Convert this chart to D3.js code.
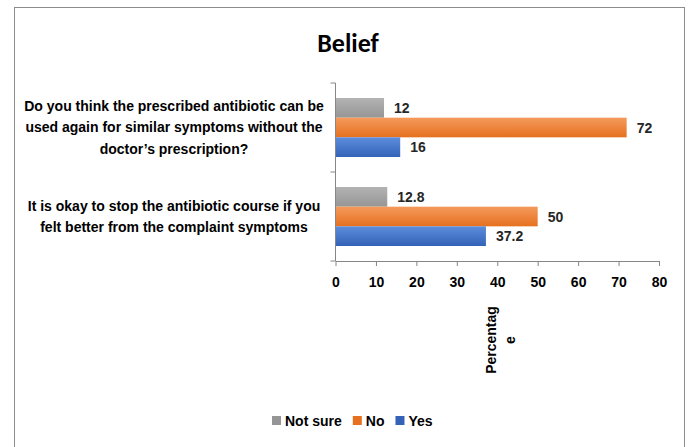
<!DOCTYPE html>
<html><head><meta charset="utf-8">
<script src="https://cdn.jsdelivr.net/npm/d3@7"></script>
<style>body{margin:0;background:#fff}svg{display:block}</style>
</head><body>
<svg id="c" width="689" height="447"></svg>
<script>
const categories = [
  "Do you think the prescribed antibiotic can be|used again for similar symptoms without the|doctor\u2019s prescription?",
  "It is okay to stop the antibiotic course if you|felt better from the complaint symptoms"
];
const seriesNames = ["Not sure", "No", "Yes"];
const notSure = [12, 12.8];
const no = [72, 50];
const yes = [16, 37.2];
const xTicks = [0, 10, 20, 30, 40, 50, 60, 70, 80];
const titleText = "Belief";
const axisTitle = ["Percentag", "e"];

const font = "'Liberation Sans Narrow','Arial Narrow','Liberation Sans',Arial,sans-serif";
const svg = d3.select("#c");
const defs = svg.append("defs");
const cols = [["#b3b3b3","#959595"],["#f49a5c","#e6701f"],["#5d8ddb","#3362b8"]];
cols.forEach((c,i)=>{
  const g = defs.append("linearGradient").attr("id","g"+i).attr("x1",0).attr("y1",0).attr("x2",0).attr("y2",1);
  g.append("stop").attr("offset","0%").attr("stop-color",c[0]);
  g.append("stop").attr("offset","100%").attr("stop-color",c[1]);
});

// frame
svg.append("rect").attr("x",14.5).attr("y",7.5).attr("width",670).attr("height",460)
  .attr("fill","none").attr("stroke","#8c8c8c").attr("stroke-width",1);

svg.append("text").attr("x",348).attr("y",52).attr("text-anchor","middle")
  .attr("font-family","Carlito,Calibri,'Liberation Sans',Arial,sans-serif").attr("font-weight","bold")
  .attr("font-size",26).attr("fill","#000").text(titleText);

const x = d3.scaleLinear().domain([0,80]).range([335.5,659]);
const y = d3.scaleBand().domain(d3.range(categories.length)).range([83,261]);
const inner = d3.scaleBand().domain(d3.range(3)).range([15, y.bandwidth()-15]);

const data = [notSure, no, yes];
const g = svg.append("g");
data.forEach((vals,s)=>{
  vals.forEach((v,i)=>{
    const y0 = y(i)+inner(s);
    g.append("rect").attr("x",x(0)).attr("y",y0).attr("width",x(v)-x(0)).attr("height",inner.bandwidth())
      .attr("fill","url(#g"+s+")");
    g.append("text").attr("x",x(v)+10).attr("y",y0+inner.bandwidth()/2).attr("dy","0.36em")
      .attr("font-family",font).attr("font-weight","bold").attr("font-size",14).attr("fill","#262626").text(v);
  });
});

// y axis
const ya = svg.append("g").attr("transform","translate("+x(0)+",0)");
ya.append("line").attr("y1",83).attr("y2",261).attr("stroke","#868686");
[83,172,261].forEach(t=>ya.append("line").attr("x1",-5).attr("x2",0).attr("y1",t).attr("y2",t).attr("stroke","#868686"));

// x axis
const xa = svg.append("g").attr("transform","translate(0,261)")
  .call(d3.axisBottom(x).tickValues(xTicks).tickSize(5).tickSizeOuter(0).tickPadding(11));
xa.select(".domain").attr("stroke","#868686");
xa.selectAll(".tick line").attr("stroke","#868686");
xa.selectAll("text").attr("font-family",font).attr("font-weight","bold").attr("font-size",14).attr("fill","#000");

// category labels
categories.forEach((c,i)=>{
  const lines = c.split("|");
  const cy = y(i)+y.bandwidth()/2;
  const lh = 21.5;
  const t = svg.append("text").attr("text-anchor","middle").attr("font-family",font)
    .attr("font-weight","bold").attr("font-size",14).attr("fill","#000");
  lines.forEach((l,k)=>{
    t.append("tspan").attr("x",174).attr("y",cy + (k-(lines.length-1)/2)*lh).attr("dy","0.35em").text(l);
  });
});

// axis title
const at = svg.append("text").attr("transform","translate(491,340) rotate(-90)")
  .attr("text-anchor","middle").attr("font-family",font).attr("font-weight","bold").attr("font-size",14).attr("fill","#000");
axisTitle.forEach((l,k)=>at.append("tspan").attr("x",0).attr("y",k*19).attr("dy","0.35em").text(l));

// legend
const leg = svg.append("g").attr("transform","translate(272,421)");
let lx = 0;
seriesNames.forEach((n,i)=>{
  leg.append("rect").attr("x",lx).attr("y",-5).attr("width",9).attr("height",9).attr("fill",cols[i][1]);
  const t = leg.append("text").attr("x",lx+13).attr("y",0).attr("dy","0.35em").attr("font-family",font)
    .attr("font-weight","bold").attr("font-size",14).attr("fill","#000").text(n);
  lx += 13 + t.node().getComputedTextLength() + 11;
});
</script>
</body></html>
